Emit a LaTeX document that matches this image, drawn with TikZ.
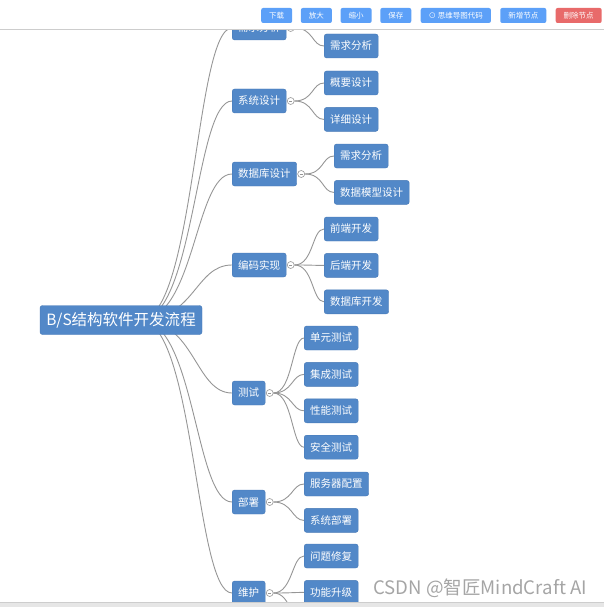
\documentclass[tikz,border=0pt]{standalone}
\usepackage{fontspec}
\newfontfamily\cjk{Noto Sans CJK SC}
\usetikzlibrary{positioning,backgrounds}
\definecolor{nodeblue}{RGB}{82,136,200}
\definecolor{nodeedge}{RGB}{70,120,182}
\definecolor{btnblue}{RGB}{92,160,248}
\definecolor{btnred}{RGB}{232,106,106}
\definecolor{linkgray}{RGB}{150,150,150}
\definecolor{rulegray}{RGB}{205,205,205}
\definecolor{bargray}{RGB}{230,230,230}
\definecolor{markgray}{RGB}{165,165,165}

\begin{document}
\begin{tikzpicture}[
      x=1pt, y=-1pt,
      node distance = 12pt,
      every node/.style = {font=\cjk},
      rootbox/.style = {fill=nodeblue, draw=nodeedge, line width=0.4pt,
                        rounded corners=2.5pt, text=white,
                        font=\cjk\fontsize{15.5}{16}\selectfont,
                        minimum width=162pt, minimum height=29pt, inner sep=0pt},
      topic/.style = {fill=nodeblue, draw=nodeedge, line width=0.4pt,
                      rounded corners=2.5pt, text=white,
                      font=\cjk\fontsize{10.5}{11}\selectfont,
                      minimum height=24pt, inner xsep=6pt, inner ysep=0pt,
                      anchor=west},
      under/.style = {below=of #1.south west, anchor=north west},
      dot/.style = {circle, draw=linkgray, fill=white, line width=0.6pt,
                    minimum size=7pt, inner sep=0pt,
                    path picture={\draw[linkgray, line width=0.6pt]
                      ([xshift=-1.5pt]path picture bounding box.center) --
                      ([xshift=1.5pt]path picture bounding box.center);}},
      link/.style = {draw=linkgray, line width=0.9pt},
      btn/.style = {fill=btnblue, rounded corners=2pt, text=white,
                    font=\cjk\fontsize{7.5}{8}\selectfont,
                    minimum height=15pt, inner xsep=8pt, inner ysep=0pt}
    ]
    \useasboundingbox (0,0) rectangle (604,607);
    \clip (0,0) rectangle (604,607);

    % root and first level
    \node (root) [rootbox] at (121,320) {B/S结构软件开发流程};
    \coordinate (hub) at (140,320);
    \node (req)  [topic] at (232,28)  {需求分析};
    \node (sys)  [topic] at (232,101) {系统设计};
    \node (db)   [topic] at (232,174) {数据库设计};
    \node (code) [topic] at (232,265) {编码实现};
    \node (test) [topic] at (232,393) {测试};
    \node (dep)  [topic] at (232,502) {部署};
    \node (mnt)  [topic] at (232,593) {维护};

    % second level
    \node (req1)  [topic] at (324,46)  {需求分析};
    \node (sys1)  [topic] at (324,83)  {概要设计};
    \node (sys2)  [topic, under=sys1]  {详细设计};
    \node (db1)   [topic] at (334,156) {需求分析};
    \node (db2)   [topic, under=db1]   {数据模型设计};
    \node (code1) [topic] at (324,229) {前端开发};
    \node (code2) [topic, under=code1] {后端开发};
    \node (code3) [topic, under=code2] {数据库开发};
    \node (test1) [topic] at (304,338) {单元测试};
    \node (test2) [topic, under=test1] {集成测试};
    \node (test3) [topic, under=test2] {性能测试};
    \node (test4) [topic, under=test3] {安全测试};
    \node (dep1)  [topic] at (304,484) {服务器配置};
    \node (dep2)  [topic, under=dep1]  {系统部署};
    \node (mnt1)  [topic] at (304,556) {问题修复};
    \node (mnt2)  [topic, under=mnt1]  {功能升级};
    \coordinate (mnt3) at (304,629);

    % expanders
    \foreach \t in {req,sys,db,code,test,dep,mnt}
      \node (\t-o) [dot, right=0.5pt of \t] {};

    \begin{scope}[on background layer]
      \foreach \t in {req,sys,db,code,test,dep,mnt}
        \draw[link] (hub) .. controls +(55,0) and +(-37,0) .. (\t.west);
      \foreach \p/\c in {req/req1, sys/sys1, sys/sys2, db/db1, db/db2,
                         code/code1, code/code2, code/code3,
                         test/test1, test/test2, test/test3, test/test4,
                         dep/dep1, dep/dep2, mnt/mnt1, mnt/mnt2}
        \draw[link] (\p-o.east) .. controls +(19,0) and +(-12,0) .. (\c.west);
      \draw[link] (mnt-o.east) .. controls +(19,0) and +(-12,0) .. (mnt3);
    \end{scope}

    % toolbar
    \fill[white] (0,0) rectangle (604,29);
    \draw[rulegray, line width=0.8pt] (0,29) -- (604,29);
    \node (dl)   [btn, anchor=west] at (261,15.5) {下载};
    \node (zin)  [btn, right=8.3pt of dl]  {放大};
    \node (zout) [btn, right=8.3pt of zin] {缩小};
    \node (save) [btn, right=8.3pt of zout] {保存};
    \node (src)  [btn, right=9pt of save]  {⊙ 思维导图代码};
    \node (add)  [btn, right=9pt of src]   {新增节点};
    \node (del)  [btn, fill=btnred, right=9pt of add] {删除节点};
    \node (more) [right=2pt of del, inner sep=0pt,
                  font=\cjk\fontsize{10}{11}\selectfont] {刷};

    % bottom bar and watermark
    \fill[bargray] (0,602) rectangle (604,607);
    \draw[rulegray, line width=0.8pt] (0,602) -- (604,602);
    \node (mark) [anchor=west, inner sep=0pt, text=markgray,
                  font=\cjk\fontsize{18.6}{19}\selectfont] at (373,588)
                  {CSDN @智匠MindCraft AI};
  \end{tikzpicture}
\end{document}
